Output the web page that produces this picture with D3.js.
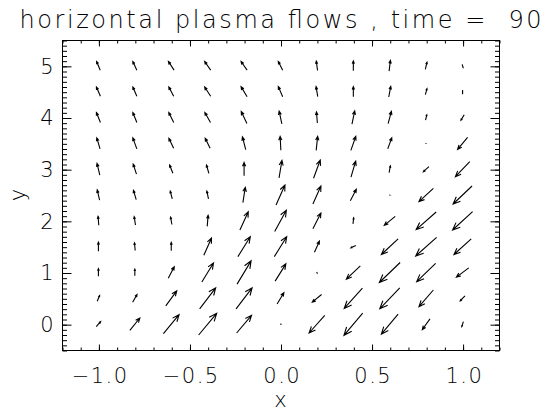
<!DOCTYPE html>
<html lang="en">
<head>
<meta charset="UTF-8">
<title>horizontal plasma flows</title>
<style>
  body { margin: 0; background: #fff; }
  text { font-family: "DejaVu Sans", "Liberation Sans", sans-serif; font-weight: 300; fill: #000; }
</style>
</head>
<body>
<script src="https://cdnjs.cloudflare.com/ajax/libs/d3/7.8.5/d3.min.js"></script>
<script>
// grid
var xs = [-1.0, -0.8, -0.6, -0.4, -0.2, 0.0, 0.2, 0.4, 0.6, 0.8, 1.0];
var ys = [0.0, 0.5, 1.0, 1.5, 2.0, 2.5, 3.0, 3.5, 4.0, 4.5, 5.0];

// flow components, one row per y (bottom to top), one column per x
var u = [
  [ 0.24,  0.55,  0.86,  0.99,  0.82,  0.03, -0.86, -1.03, -0.92, -0.42, -0.09],
  [ 0.13,  0.24,  0.60,  0.88,  0.88,  0.37, -0.51, -1.00, -1.10, -0.79, -0.26],
  [ 0.00,  0.00,  0.33,  0.64,  0.77,  0.59,  0.02, -0.77, -1.14, -1.04, -0.68],
  [ 0.00, -0.04,  0.00,  0.42,  0.68,  0.68,  0.27, -0.27, -0.92, -1.15, -0.95],
  [-0.04, -0.07, -0.07,  0.05,  0.46,  0.64,  0.44,  0.04, -0.60, -1.10, -1.10],
  [-0.13, -0.15, -0.11, -0.09,  0.13,  0.49,  0.44,  0.33,  0.05, -0.79, -1.04],
  [-0.15, -0.18, -0.18, -0.13,  0.00,  0.16,  0.37,  0.26,  0.07, -0.31, -0.79],
  [-0.18, -0.22, -0.26, -0.27, -0.18, -0.04,  0.08,  0.27,  0.22,  0.02, -0.55],
  [-0.22, -0.22, -0.27, -0.31, -0.31, -0.15, -0.05,  0.15,  0.18,  0.07, -0.18],
  [-0.22, -0.22, -0.27, -0.33, -0.33, -0.24, -0.09,  0.00,  0.11,  0.09,  0.00],
  [-0.20, -0.22, -0.31, -0.33, -0.33, -0.24, -0.07,  0.00,  0.07,  0.09,  0.05]
];
var v = [
  [ 0.97,  2.38,  3.68,  4.20,  3.42,  0.00, -3.42, -4.31, -3.87, -2.07, -0.97],
  [ 1.10,  1.49,  2.90,  4.06,  4.06,  2.19, -1.49, -3.93, -4.06, -3.23, -0.97],
  [ 1.49,  1.30,  2.19,  3.68,  4.51,  3.35, -0.19, -2.57, -3.87, -3.54, -1.80],
  [ 1.74,  1.49,  1.61,  3.35,  3.87,  3.87,  2.13, -0.45, -3.04, -3.62, -3.04],
  [ 1.74,  1.61,  1.41,  2.13,  3.54,  4.12,  3.04,  1.16, -1.74, -3.42, -3.54],
  [ 1.94,  1.80,  1.49,  1.49,  2.96,  3.87,  3.48,  2.19,  0.00, -2.57, -3.48],
  [ 2.26,  1.94,  1.61,  1.61,  2.57,  3.35,  3.54,  3.10,  1.30, -0.97, -2.90],
  [ 2.13,  2.13,  1.94,  1.94,  2.46,  2.71,  2.71,  2.71,  2.13,  0.06, -2.32],
  [ 1.94,  1.94,  1.94,  1.94,  2.32,  2.46,  2.13,  2.57,  2.38,  1.03, -1.10],
  [ 1.80,  1.80,  1.80,  1.80,  1.94,  1.94,  1.94,  1.94,  2.07,  1.16, -0.68],
  [ 1.68,  1.68,  1.68,  1.68,  1.68,  1.68,  1.80,  1.94,  2.07,  1.41, -0.58]
];

var xTicks = [-1.0, -0.5, 0.0, 0.5, 1.0];
var yTicks = [0, 1, 2, 3, 4, 5];

var W = 548, H = 413;
var pL = 62, pR = 499, pT = 40, pB = 350;
var vscale = 0.1;   // data units per flow unit

var svg = d3.select("body").append("svg")
  .attr("width", W).attr("height", H);

var x = d3.scaleLinear().domain([-1.2, 1.2]).range([pL, pR]);
var y = d3.scaleLinear().domain([-0.5, 5.5]).range([pB, pT]);

// frame
svg.append("rect")
  .attr("x", pL + 0.5).attr("y", pT + 0.5)
  .attr("width", pR - pL).attr("height", pB - pT)
  .attr("fill", "none").attr("stroke", "#000").attr("stroke-width", 1);

var xMinor = d3.range(-12, 13).map(function(d) { return d / 10; });
var yMinor = d3.range(-5, 56).map(function(d) { return d / 10; });

function styleAxis(g) {
  g.select(".domain").remove();
  g.selectAll("line").attr("stroke", "#000");
}

// bottom / top
svg.append("g").attr("transform", "translate(0.5," + (pB + 0.5) + ")")
  .call(d3.axisBottom(x).tickValues(xMinor).tickSize(-3).tickFormat(""))
  .call(styleAxis);
svg.append("g").attr("transform", "translate(0.5," + (pB + 0.5) + ")")
  .call(d3.axisBottom(x).tickValues(xTicks).tickSize(-6).tickPadding(18).tickFormat(d3.format(".1f")))
  .call(styleAxis)
  .selectAll("text").attr("font-size", 21).attr("letter-spacing", 1.5).attr("dx", 0.75);
svg.append("g").attr("transform", "translate(0.5," + (pT + 0.5) + ")")
  .call(d3.axisTop(x).tickValues(xMinor).tickSize(-3).tickFormat(""))
  .call(styleAxis);
svg.append("g").attr("transform", "translate(0.5," + (pT + 0.5) + ")")
  .call(d3.axisTop(x).tickValues(xTicks).tickSize(-6).tickFormat(""))
  .call(styleAxis);

// left / right
svg.append("g").attr("transform", "translate(" + (pL + 0.5) + ",0.5)")
  .call(d3.axisLeft(y).tickValues(yMinor).tickSize(-4.5).tickFormat(""))
  .call(styleAxis);
svg.append("g").attr("transform", "translate(" + (pL + 0.5) + ",0.5)")
  .call(d3.axisLeft(y).tickValues(yTicks).tickSize(-9).tickPadding(9).tickFormat(d3.format("d")))
  .call(styleAxis)
  .selectAll("text").attr("font-size", 21);
svg.append("g").attr("transform", "translate(" + (pR + 0.5) + ",0.5)")
  .call(d3.axisRight(y).tickValues(yMinor).tickSize(-4.5).tickFormat(""))
  .call(styleAxis);
svg.append("g").attr("transform", "translate(" + (pR + 0.5) + ",0.5)")
  .call(d3.axisRight(y).tickValues(yTicks).tickSize(-9).tickFormat(""))
  .call(styleAxis);

// titles
svg.append("text")
  .attr("x", (pL + pR) / 2).attr("y", 28)
  .attr("text-anchor", "middle").attr("font-size", 24)
  .attr("textLength", 522).attr("lengthAdjust", "spacing")
  .style("white-space", "pre")
  .text("horizontal plasma flows , time =  90");
svg.append("text")
  .attr("x", (pL + pR) / 2).attr("y", 407)
  .attr("text-anchor", "middle").attr("font-size", 21)
  .text("x");
svg.append("text")
  .attr("transform", "translate(25," + ((pT + pB) / 2) + ") rotate(-90)")
  .attr("text-anchor", "middle").attr("font-size", 21)
  .text("y");

// arrows, centred on their grid points
var arrows = [];
ys.forEach(function(yv, j) {
  xs.forEach(function(xv, i) {
    arrows.push({x: xv, y: yv, u: u[j][i], v: v[j][i]});
  });
});

function arrowPath(d) {
  var x0 = x(d.x - d.u * vscale / 2), y0 = y(d.y - d.v * vscale / 2);
  var x1 = x(d.x + d.u * vscale / 2), y1 = y(d.y + d.v * vscale / 2);
  var dx = x1 - x0, dy = y1 - y0;
  var len = Math.sqrt(dx * dx + dy * dy);
  if (len < 0.5) return "M" + (x0 - 0.5) + "," + y0 + "L" + (x0 + 0.5) + "," + y0;
  var r = 0.3, a = 22.5 * Math.PI / 180;
  var ct = r * Math.cos(a), st = r * Math.sin(a);
  var hx1 = x1 - (ct * dx - st * dy), hy1 = y1 - (ct * dy + st * dx);
  var hx2 = x1 - (ct * dx + st * dy), hy2 = y1 - (ct * dy - st * dx);
  return "M" + x0 + "," + y0 + "L" + x1 + "," + y1 +
         "M" + hx1 + "," + hy1 + "L" + x1 + "," + y1 + "L" + hx2 + "," + hy2;
}

svg.append("g").selectAll("path")
  .data(arrows)
  .enter().append("path")
  .attr("d", arrowPath)
  .attr("fill", "none")
  .attr("stroke", "#000")
  .attr("stroke-width", 1.1);
</script>
</body>
</html>
